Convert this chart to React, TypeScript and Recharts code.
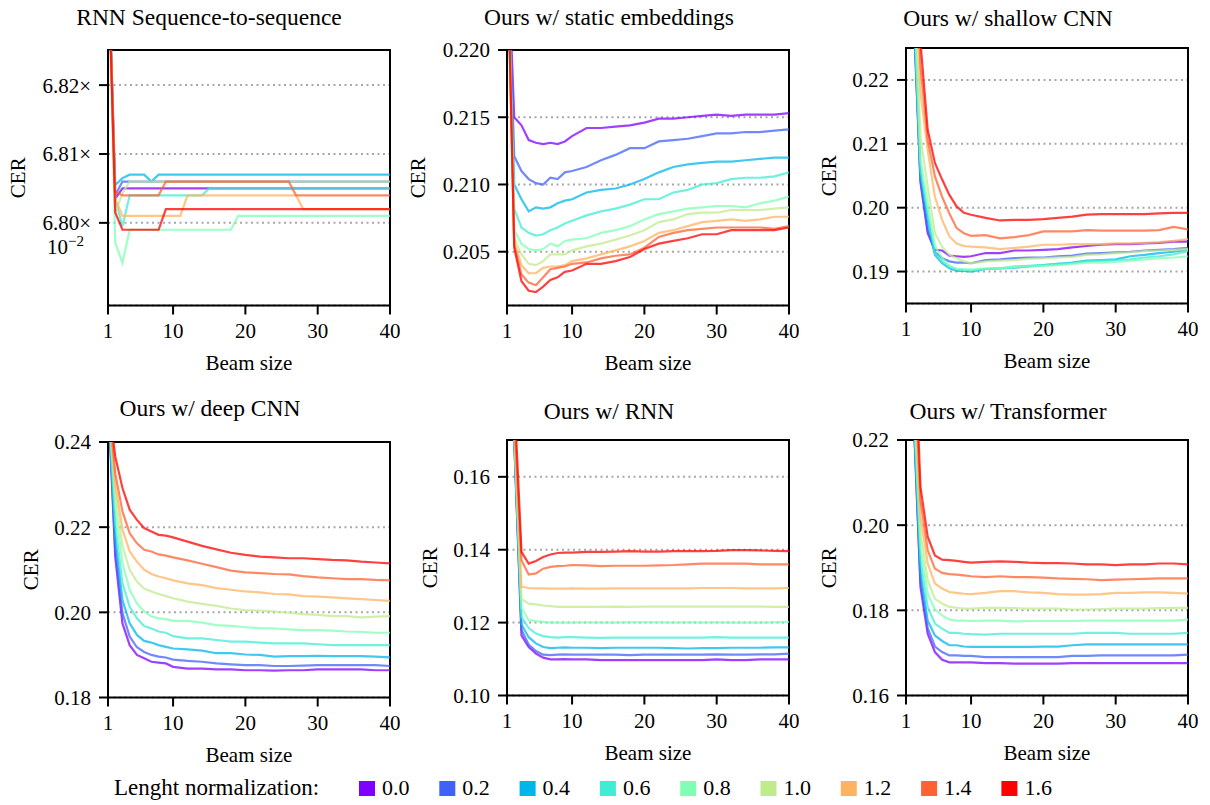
import React from 'react';
import { LineChart, Line, XAxis, YAxis, CartesianGrid, ReferenceArea } from 'recharts';

const FONT = "'Liberation Serif', 'Times New Roman', serif";

// length normalization values and the rainbow colours used for them
const normLabels = ['0.0', '0.2', '0.4', '0.6', '0.8', '1.0', '1.2', '1.4', '1.6'];
const normColors = ['#8000ff', '#4062fa', '#00b5eb', '#40ecd4', '#80ffb4', '#c0eb8d', '#ffb360', '#ff6230', '#ff0000'];

const beamTicks = [1, 10, 20, 30, 40];
const beamSizes = [1, 2, 3, 4, 5, 6, 7, 8, 9, 10, 12, 14, 16, 18, 20, 22, 24, 26, 28, 30, 32, 34, 36, 38, 40];
const beamSizesSeq = [1, 2, 3, 4, 5, 6, 7, 8, 9, 10, 11, 12, 14, 15, 16, 18, 19, 20, 22, 24, 26, 27, 28, 30, 32, 34, 36, 38, 40];

// RNN Sequence-to-sequence (CER x 10^-2)
const rnnSeq = [
  [6.84, 6.8035, 6.805, 6.805, 6.805, 6.805, 6.805, 6.805, 6.805, 6.805, 6.805, 6.805, 6.805, 6.805, 6.805, 6.805, 6.805, 6.805, 6.805, 6.805, 6.805, 6.805, 6.805, 6.805, 6.805, 6.805, 6.805, 6.805, 6.805],
  [6.84, 6.804, 6.806, 6.806, 6.806, 6.806, 6.806, 6.806, 6.806, 6.806, 6.806, 6.806, 6.806, 6.806, 6.806, 6.806, 6.806, 6.806, 6.806, 6.806, 6.806, 6.806, 6.806, 6.806, 6.806, 6.806, 6.806, 6.806, 6.806],
  [6.84, 6.8055, 6.8065, 6.807, 6.807, 6.807, 6.806, 6.807, 6.807, 6.807, 6.807, 6.807, 6.807, 6.807, 6.807, 6.807, 6.807, 6.807, 6.807, 6.807, 6.807, 6.807, 6.807, 6.807, 6.807, 6.807, 6.807, 6.807, 6.807],
  [6.84, 6.8035, 6.7995, 6.804, 6.804, 6.804, 6.804, 6.804, 6.804, 6.804, 6.804, 6.804, 6.804, 6.805, 6.805, 6.805, 6.805, 6.805, 6.805, 6.805, 6.805, 6.805, 6.805, 6.805, 6.805, 6.805, 6.805, 6.805, 6.805],
  [6.84, 6.7971, 6.7942, 6.799, 6.799, 6.799, 6.799, 6.799, 6.799, 6.799, 6.799, 6.799, 6.799, 6.799, 6.799, 6.799, 6.801, 6.801, 6.801, 6.801, 6.801, 6.801, 6.801, 6.801, 6.801, 6.801, 6.801, 6.801, 6.801],
  [6.84, 6.8014, 6.8043, 6.806, 6.806, 6.806, 6.806, 6.806, 6.806, 6.806, 6.806, 6.806, 6.806, 6.806, 6.806, 6.806, 6.806, 6.806, 6.806, 6.806, 6.806, 6.806, 6.806, 6.806, 6.806, 6.806, 6.806, 6.806, 6.806],
  [6.84, 6.8035, 6.801, 6.801, 6.801, 6.801, 6.801, 6.801, 6.801, 6.801, 6.801, 6.804, 6.804, 6.804, 6.804, 6.804, 6.804, 6.804, 6.804, 6.804, 6.804, 6.804, 6.802, 6.802, 6.802, 6.802, 6.802, 6.802, 6.802],
  [6.84, 6.8045, 6.804, 6.804, 6.804, 6.804, 6.804, 6.804, 6.806, 6.806, 6.806, 6.806, 6.806, 6.806, 6.806, 6.806, 6.806, 6.806, 6.806, 6.806, 6.806, 6.804, 6.804, 6.804, 6.804, 6.804, 6.804, 6.804, 6.804],
  [6.84, 6.8015, 6.799, 6.799, 6.799, 6.799, 6.799, 6.799, 6.802, 6.802, 6.802, 6.802, 6.802, 6.802, 6.802, 6.802, 6.802, 6.802, 6.802, 6.802, 6.802, 6.802, 6.802, 6.802, 6.802, 6.802, 6.802, 6.802, 6.802],
];

// Ours w/ static embeddings
const staticEmb = [
  [0.229, 0.2150, 0.2144, 0.2133, 0.2131, 0.2130, 0.2131, 0.2130, 0.2132, 0.2136, 0.2142, 0.2142, 0.2143, 0.2144, 0.2146, 0.2149, 0.2149, 0.2150, 0.2151, 0.2152, 0.2151, 0.2152, 0.2152, 0.2152, 0.2153],
  [0.229, 0.2121, 0.2110, 0.2104, 0.2101, 0.2100, 0.2105, 0.2104, 0.2109, 0.2110, 0.2113, 0.2118, 0.2122, 0.2127, 0.2127, 0.2132, 0.2133, 0.2134, 0.2136, 0.2138, 0.2138, 0.2139, 0.2139, 0.2140, 0.2141],
  [0.229, 0.2100, 0.2089, 0.2080, 0.2083, 0.2082, 0.2083, 0.2086, 0.2088, 0.2089, 0.2094, 0.2096, 0.2097, 0.2100, 0.2104, 0.2109, 0.2113, 0.2115, 0.2116, 0.2117, 0.2117, 0.2118, 0.2119, 0.2120, 0.2120],
  [0.229, 0.2082, 0.2068, 0.2064, 0.2062, 0.2063, 0.2066, 0.2068, 0.2071, 0.2073, 0.2077, 0.2080, 0.2082, 0.2085, 0.2089, 0.2089, 0.2094, 0.2096, 0.2100, 0.2101, 0.2104, 0.2105, 0.2105, 0.2106, 0.2109],
  [0.229, 0.2066, 0.2056, 0.2052, 0.2051, 0.2052, 0.2056, 0.2054, 0.2058, 0.2059, 0.2060, 0.2064, 0.2066, 0.2069, 0.2074, 0.2078, 0.2080, 0.2082, 0.2083, 0.2084, 0.2084, 0.2083, 0.2086, 0.2088, 0.2091],
  [0.229, 0.2060, 0.2048, 0.2041, 0.2040, 0.2043, 0.2048, 0.2048, 0.2048, 0.2051, 0.2054, 0.2056, 0.2059, 0.2062, 0.2066, 0.2072, 0.2074, 0.2078, 0.2079, 0.2079, 0.2081, 0.2081, 0.2081, 0.2082, 0.2083],
  [0.229, 0.2057, 0.2040, 0.2034, 0.2034, 0.2038, 0.2039, 0.2039, 0.2040, 0.2043, 0.2045, 0.2048, 0.2051, 0.2054, 0.2058, 0.2064, 0.2066, 0.2069, 0.2072, 0.2073, 0.2074, 0.2073, 0.2074, 0.2076, 0.2076],
  [0.229, 0.2055, 0.2033, 0.2027, 0.2025, 0.2031, 0.2037, 0.2038, 0.2039, 0.2041, 0.2042, 0.2045, 0.2047, 0.2048, 0.2053, 0.2061, 0.2064, 0.2066, 0.2067, 0.2068, 0.2068, 0.2068, 0.2068, 0.2067, 0.2069],
  [0.229, 0.2053, 0.2028, 0.2021, 0.2020, 0.2024, 0.2029, 0.2031, 0.2035, 0.2036, 0.2041, 0.2041, 0.2043, 0.2046, 0.2052, 0.2056, 0.2058, 0.2060, 0.2063, 0.2063, 0.2066, 0.2066, 0.2066, 0.2066, 0.2068],
];

// Ours w/ shallow CNN
const shallowCnn = [
  [0.32, 0.232, 0.2040, 0.1960, 0.1934, 0.1933, 0.1925, 0.1924, 0.1923, 0.1924, 0.1929, 0.1929, 0.1933, 0.1933, 0.1934, 0.1935, 0.1938, 0.1940, 0.1942, 0.1943, 0.1943, 0.1944, 0.1945, 0.1947, 0.1947],
  [0.32, 0.232, 0.2045, 0.1965, 0.1930, 0.1921, 0.1916, 0.1914, 0.1914, 0.1913, 0.1918, 0.1919, 0.1921, 0.1922, 0.1922, 0.1924, 0.1925, 0.1928, 0.1929, 0.1930, 0.1931, 0.1933, 0.1934, 0.1935, 0.1937],
  [0.32, 0.233, 0.2050, 0.1981, 0.1926, 0.1913, 0.1905, 0.1901, 0.1901, 0.1900, 0.1904, 0.1905, 0.1906, 0.1908, 0.1910, 0.1912, 0.1914, 0.1917, 0.1918, 0.1919, 0.1924, 0.1926, 0.1929, 0.1931, 0.1934],
  [0.32, 0.234, 0.2060, 0.1992, 0.1929, 0.1916, 0.1908, 0.1904, 0.1903, 0.1902, 0.1904, 0.1905, 0.1908, 0.1909, 0.1910, 0.1912, 0.1913, 0.1916, 0.1917, 0.1918, 0.1919, 0.1922, 0.1924, 0.1927, 0.1932],
  [0.32, 0.236, 0.2075, 0.2007, 0.1940, 0.1921, 0.1909, 0.1904, 0.1903, 0.1903, 0.1905, 0.1905, 0.1907, 0.1908, 0.1909, 0.1910, 0.1912, 0.1914, 0.1914, 0.1915, 0.1917, 0.1919, 0.1921, 0.1922, 0.1924],
  [0.32, 0.240, 0.2110, 0.2033, 0.1960, 0.1939, 0.1926, 0.1921, 0.1916, 0.1913, 0.1916, 0.1917, 0.1918, 0.1920, 0.1921, 0.1922, 0.1923, 0.1926, 0.1927, 0.1929, 0.1930, 0.1932, 0.1933, 0.1934, 0.1935],
  [0.32, 0.248, 0.2180, 0.2090, 0.2017, 0.1981, 0.1955, 0.1944, 0.1940, 0.1939, 0.1938, 0.1935, 0.1937, 0.1939, 0.1942, 0.1942, 0.1943, 0.1943, 0.1943, 0.1944, 0.1944, 0.1945, 0.1946, 0.1948, 0.1951],
  [0.32, 0.255, 0.2221, 0.2106, 0.2049, 0.2017, 0.1991, 0.1968, 0.1960, 0.1956, 0.1957, 0.1952, 0.1954, 0.1957, 0.1963, 0.1963, 0.1963, 0.1965, 0.1964, 0.1964, 0.1964, 0.1964, 0.1965, 0.1970, 0.1966],
  [0.32, 0.265, 0.2260, 0.2122, 0.2070, 0.2044, 0.2020, 0.2002, 0.1992, 0.1989, 0.1984, 0.1980, 0.1981, 0.1981, 0.1982, 0.1984, 0.1986, 0.1989, 0.1990, 0.1990, 0.1990, 0.1990, 0.1991, 0.1992, 0.1992],
];

// Ours w/ deep CNN
const deepCnn = [
  [0.251, 0.2131, 0.1974, 0.1923, 0.1900, 0.1892, 0.1884, 0.1882, 0.1880, 0.1872, 0.1868, 0.1868, 0.1866, 0.1866, 0.1864, 0.1864, 0.1863, 0.1864, 0.1864, 0.1866, 0.1866, 0.1866, 0.1866, 0.1864, 0.1864],
  [0.251, 0.2147, 0.1998, 0.1943, 0.1918, 0.1907, 0.1900, 0.1896, 0.1894, 0.1889, 0.1886, 0.1884, 0.1880, 0.1878, 0.1876, 0.1876, 0.1874, 0.1874, 0.1875, 0.1876, 0.1876, 0.1876, 0.1876, 0.1876, 0.1874],
  [0.251, 0.2178, 0.2029, 0.1974, 0.1947, 0.1933, 0.1929, 0.1923, 0.1919, 0.1915, 0.1913, 0.1910, 0.1904, 0.1904, 0.1901, 0.1900, 0.1896, 0.1897, 0.1897, 0.1898, 0.1897, 0.1897, 0.1897, 0.1896, 0.1894],
  [0.251, 0.2209, 0.2068, 0.2013, 0.1986, 0.1968, 0.1962, 0.1955, 0.1952, 0.1944, 0.1939, 0.1939, 0.1935, 0.1931, 0.1931, 0.1929, 0.1927, 0.1927, 0.1927, 0.1925, 0.1923, 0.1923, 0.1923, 0.1923, 0.1923],
  [0.251, 0.2249, 0.2115, 0.2053, 0.2021, 0.2002, 0.1990, 0.1986, 0.1984, 0.1980, 0.1980, 0.1976, 0.1970, 0.1968, 0.1965, 0.1963, 0.1962, 0.1960, 0.1958, 0.1958, 0.1957, 0.1955, 0.1954, 0.1952, 0.1952],
  [0.251, 0.2280, 0.2155, 0.2100, 0.2072, 0.2056, 0.2049, 0.2043, 0.2038, 0.2033, 0.2025, 0.2020, 0.2015, 0.2009, 0.2005, 0.2004, 0.2002, 0.1999, 0.1996, 0.1994, 0.1991, 0.1991, 0.1988, 0.1990, 0.1991],
  [0.251, 0.2304, 0.2194, 0.2143, 0.2119, 0.2100, 0.2090, 0.2084, 0.2080, 0.2075, 0.2068, 0.2064, 0.2057, 0.2053, 0.2049, 0.2047, 0.2043, 0.2042, 0.2038, 0.2037, 0.2035, 0.2033, 0.2031, 0.2029, 0.2027],
  [0.251, 0.2327, 0.2237, 0.2186, 0.2162, 0.2147, 0.2143, 0.2136, 0.2133, 0.2129, 0.2122, 0.2114, 0.2106, 0.2098, 0.2094, 0.2092, 0.2090, 0.2089, 0.2085, 0.2082, 0.2080, 0.2078, 0.2078, 0.2076, 0.2075],
  [0.251, 0.2366, 0.2292, 0.2241, 0.2217, 0.2198, 0.2190, 0.2182, 0.2180, 0.2176, 0.2166, 0.2156, 0.2148, 0.2140, 0.2135, 0.2131, 0.2129, 0.2127, 0.2127, 0.2125, 0.2123, 0.2122, 0.2119, 0.2117, 0.2115],
];

// Ours w/ RNN
const oursRnn = [
  [0.25, 0.170, 0.1165, 0.1133, 0.1115, 0.1104, 0.1099, 0.1099, 0.1100, 0.1099, 0.1099, 0.1097, 0.1097, 0.1097, 0.1097, 0.1097, 0.1097, 0.1097, 0.1097, 0.1099, 0.1097, 0.1097, 0.1099, 0.1099, 0.1099],
  [0.25, 0.170, 0.1180, 0.1140, 0.1122, 0.1112, 0.1111, 0.1112, 0.1113, 0.1112, 0.1112, 0.1112, 0.1112, 0.1111, 0.1112, 0.1112, 0.1112, 0.1112, 0.1112, 0.1113, 0.1112, 0.1112, 0.1113, 0.1113, 0.1115],
  [0.25, 0.171, 0.1195, 0.1160, 0.1143, 0.1133, 0.1130, 0.1131, 0.1132, 0.1131, 0.1131, 0.1130, 0.1131, 0.1131, 0.1131, 0.1131, 0.1130, 0.1129, 0.1130, 0.1130, 0.1131, 0.1131, 0.1131, 0.1132, 0.1132],
  [0.25, 0.172, 0.1215, 0.1185, 0.1170, 0.1163, 0.1160, 0.1159, 0.1160, 0.1160, 0.1159, 0.1158, 0.1159, 0.1159, 0.1159, 0.1159, 0.1159, 0.1159, 0.1159, 0.1160, 0.1159, 0.1159, 0.1159, 0.1159, 0.1159],
  [0.25, 0.173, 0.1240, 0.1207, 0.1204, 0.1202, 0.1200, 0.1200, 0.1200, 0.1200, 0.1201, 0.1200, 0.1200, 0.1201, 0.1201, 0.1201, 0.1200, 0.1201, 0.1200, 0.1201, 0.1200, 0.1200, 0.1200, 0.1201, 0.1202],
  [0.25, 0.174, 0.1265, 0.1252, 0.1250, 0.1247, 0.1245, 0.1243, 0.1243, 0.1243, 0.1243, 0.1243, 0.1244, 0.1243, 0.1244, 0.1244, 0.1244, 0.1244, 0.1244, 0.1244, 0.1244, 0.1244, 0.1244, 0.1243, 0.1243],
  [0.25, 0.175, 0.1298, 0.1295, 0.1294, 0.1294, 0.1293, 0.1293, 0.1293, 0.1294, 0.1293, 0.1293, 0.1294, 0.1294, 0.1294, 0.1294, 0.1294, 0.1294, 0.1295, 0.1295, 0.1295, 0.1294, 0.1294, 0.1294, 0.1295],
  [0.25, 0.177, 0.1371, 0.1332, 0.1335, 0.1348, 0.1353, 0.1355, 0.1356, 0.1358, 0.1357, 0.1355, 0.1356, 0.1356, 0.1356, 0.1357, 0.1358, 0.1360, 0.1362, 0.1362, 0.1362, 0.1362, 0.1360, 0.1360, 0.1360],
  [0.25, 0.183, 0.1394, 0.1362, 0.1369, 0.1380, 0.1387, 0.1391, 0.1392, 0.1392, 0.1394, 0.1394, 0.1395, 0.1396, 0.1395, 0.1395, 0.1396, 0.1396, 0.1396, 0.1397, 0.1399, 0.1399, 0.1398, 0.1397, 0.1396],
];

// Ours w/ Transformer
const transformer = [
  [0.30, 0.228, 0.1855, 0.1745, 0.1702, 0.1684, 0.1678, 0.1678, 0.1678, 0.1678, 0.1676, 0.1676, 0.1675, 0.1675, 0.1675, 0.1675, 0.1676, 0.1676, 0.1676, 0.1676, 0.1676, 0.1676, 0.1676, 0.1676, 0.1676],
  [0.30, 0.228, 0.1870, 0.1758, 0.1715, 0.1702, 0.1694, 0.1694, 0.1693, 0.1693, 0.1690, 0.1690, 0.1690, 0.1690, 0.1690, 0.1690, 0.1693, 0.1693, 0.1694, 0.1694, 0.1694, 0.1694, 0.1694, 0.1694, 0.1696],
  [0.30, 0.229, 0.1890, 0.1776, 0.1741, 0.1728, 0.1718, 0.1718, 0.1715, 0.1714, 0.1714, 0.1714, 0.1714, 0.1714, 0.1715, 0.1715, 0.1718, 0.1720, 0.1720, 0.1720, 0.1720, 0.1720, 0.1720, 0.1720, 0.1720],
  [0.30, 0.230, 0.1920, 0.1808, 0.1769, 0.1757, 0.1747, 0.1747, 0.1745, 0.1744, 0.1743, 0.1745, 0.1745, 0.1745, 0.1745, 0.1745, 0.1745, 0.1747, 0.1747, 0.1747, 0.1745, 0.1745, 0.1745, 0.1745, 0.1747],
  [0.30, 0.232, 0.1950, 0.1839, 0.1802, 0.1788, 0.1778, 0.1776, 0.1776, 0.1775, 0.1776, 0.1776, 0.1774, 0.1775, 0.1775, 0.1775, 0.1775, 0.1776, 0.1776, 0.1776, 0.1776, 0.1776, 0.1776, 0.1776, 0.1778],
  [0.30, 0.235, 0.1985, 0.1871, 0.1827, 0.1816, 0.1808, 0.1806, 0.1804, 0.1804, 0.1806, 0.1806, 0.1805, 0.1804, 0.1804, 0.1804, 0.1802, 0.1802, 0.1803, 0.1804, 0.1804, 0.1804, 0.1805, 0.1806, 0.1806],
  [0.30, 0.240, 0.2020, 0.1910, 0.1863, 0.1851, 0.1843, 0.1841, 0.1839, 0.1838, 0.1841, 0.1845, 0.1845, 0.1842, 0.1841, 0.1838, 0.1837, 0.1837, 0.1838, 0.1841, 0.1841, 0.1842, 0.1842, 0.1841, 0.1839],
  [0.30, 0.245, 0.2059, 0.1941, 0.1898, 0.1888, 0.1885, 0.1884, 0.1882, 0.1880, 0.1878, 0.1880, 0.1878, 0.1878, 0.1877, 0.1875, 0.1874, 0.1873, 0.1871, 0.1872, 0.1873, 0.1874, 0.1875, 0.1875, 0.1875],
  [0.30, 0.253, 0.2090, 0.1973, 0.1929, 0.1919, 0.1918, 0.1916, 0.1914, 0.1912, 0.1914, 0.1915, 0.1914, 0.1912, 0.1911, 0.1911, 0.1910, 0.1908, 0.1908, 0.1906, 0.1908, 0.1908, 0.1910, 0.1910, 0.1908],
];

const PW = 282;
const PH = 255.5;
const AXIS_W = 105;
const TOP_PAD = 25;

const panels = [
  { title: 'RNN Sequence-to-sequence', xs: beamSizesSeq, series: rnnSeq, domain: [6.788, 6.8251], ticks: [6.8, 6.81, 6.82], digits: 2, sci: true, left: 108, top: 50, titleX: 209, titleY: 25, cerX: 18 },
  { title: 'Ours w/ static embeddings', xs: beamSizes, series: staticEmb, domain: [0.201, 0.22], ticks: [0.205, 0.21, 0.215, 0.22], digits: 3, left: 507, top: 50, titleX: 609, titleY: 25, cerX: 418 },
  { title: 'Ours w/ shallow CNN', xs: beamSizes, series: shallowCnn, domain: [0.185, 0.225], ticks: [0.19, 0.2, 0.21, 0.22], digits: 2, left: 906, top: 48.3, titleX: 1008, titleY: 26, cerX: 829 },
  { title: 'Ours w/ deep CNN', xs: beamSizes, series: deepCnn, domain: [0.18, 0.24], ticks: [0.18, 0.2, 0.22, 0.24], digits: 2, left: 108, top: 442, titleX: 210, titleY: 416, cerX: 31 },
  { title: 'Ours w/ RNN', xs: beamSizes, series: oursRnn, domain: [0.1, 0.1701], ticks: [0.1, 0.12, 0.14, 0.16], digits: 2, left: 507, top: 440, titleX: 609, titleY: 419, cerX: 430 },
  { title: 'Ours w/ Transformer', xs: beamSizes, series: transformer, domain: [0.16, 0.22], ticks: [0.16, 0.18, 0.2, 0.22], digits: 2, left: 906, top: 440, titleX: 1008, titleY: 419, cerX: 829 },
];

const toRows = (xs: number[], series: number[][]) =>
  xs.map((x, i) => {
    const row: any = { x };
    series.forEach((s, j) => { row['s' + j] = s[i]; });
    return row;
  });

const textStyle = { fontSize: 21, fill: '#000', fontFamily: FONT };

// y tick of the seq2seq panel: "6.80×" with the 10^-2 multiplier under the lowest one
const SciTick = (props: any) => {
  const { x, y, payload } = props;
  return (
    <g>
      <text x={x} y={y} dy="0.355em" textAnchor="end" fontSize={21} fill="#000" style={{ fontFamily: FONT }}>{payload.value.toFixed(2)}×</text>
      {Math.abs(payload.value - 6.8) < 1e-6 && (
        <text x={x - 7} y={y + 24} dy="0.355em" textAnchor="end" fontSize={21} fill="#000" style={{ fontFamily: FONT }}>
          10<tspan dy={-8} fontSize={15}>−2</tspan>
        </text>
      )}
    </g>
  );
};

const Panel = ({ p }: any) => {
  const chartLeft = Math.max(0, p.left - AXIS_W);
  const axisW = p.left - chartLeft;
  return (
    <div style={{ position: 'absolute', left: chartLeft, top: p.top - TOP_PAD }}>
      <LineChart width={PW + axisW + 10} height={PH + TOP_PAD + 70} data={toRows(p.xs, p.series)} margin={{ top: TOP_PAD, right: 10, bottom: 0, left: 0 }} style={{ fontFamily: FONT }}>
        <CartesianGrid vertical={false} stroke="#a8a8a8" strokeDasharray="2 3.5" strokeWidth={2} />
        <XAxis
          type="number"
          dataKey="x"
          domain={[1, 40]}
          ticks={beamTicks}
          interval={0}
          allowDataOverflow
          height={70}
          tickSize={9}
          tickMargin={9}
          axisLine={false}
          tickLine={{ stroke: '#000', strokeWidth: 2 }}
          tick={textStyle}
          label={{ value: 'Beam size', position: 'insideBottom', offset: 6, ...textStyle }}
        />
        <YAxis
          type="number"
          domain={p.domain}
          ticks={p.ticks}
          interval={0}
          allowDataOverflow
          width={axisW}
          tickSize={9}
          tickMargin={8}
          axisLine={false}
          tickLine={{ stroke: '#000', strokeWidth: 2 }}
          tick={p.sci ? (tp: any) => <SciTick {...tp} /> : textStyle}
          tickFormatter={(v: number) => v.toFixed(p.digits)}
          label={{ value: 'CER', angle: -90, position: 'insideLeft', offset: p.cerX - chartLeft, style: { textAnchor: 'middle' }, ...textStyle }}
        />
        {p.series.map((_: number[], j: number) => (
          <Line
            key={j}
            type="linear"
            dataKey={'s' + j}
            stroke={normColors[j]}
            strokeWidth={2.2}
            strokeOpacity={0.75}
            dot={false}
            activeDot={false}
            isAnimationActive={false}
          />
        ))}
        <ReferenceArea x1={1} x2={40} y1={p.domain[0]} y2={p.domain[1]} fill="none" stroke="#000" strokeWidth={2} ifOverflow="visible" />
      </LineChart>
    </div>
  );
};

const LEGEND_X0 = 359;
const LEGEND_STEP = 80.3;

export default function App() {
  return (
    <div style={{ position: 'absolute', left: 0, top: 0, width: 1210, height: 805, background: '#fff', overflow: 'hidden', fontFamily: FONT }}>
      <svg width={1210} height={805} style={{ position: 'absolute', left: 0, top: 0, fontFamily: FONT }}>
        {panels.map((p) => (
          <text key={p.title} x={p.titleX} y={p.titleY} textAnchor="middle" fontSize={23.5} fill="#000">{p.title}</text>
        ))}
        <text x={114} y={795} fontSize={23} fill="#000">Lenght normalization:</text>
        {normLabels.map((lab, i) => (
          <g key={lab}>
            <rect x={LEGEND_X0 + i * LEGEND_STEP} y={781} width={16} height={15} fill={normColors[i]} />
            <text x={LEGEND_X0 + i * LEGEND_STEP + 23} y={795} fontSize={22} fill="#000">{lab}</text>
          </g>
        ))}
      </svg>
      {panels.map((p) => <Panel key={p.title} p={p} />)}
    </div>
  );
}
